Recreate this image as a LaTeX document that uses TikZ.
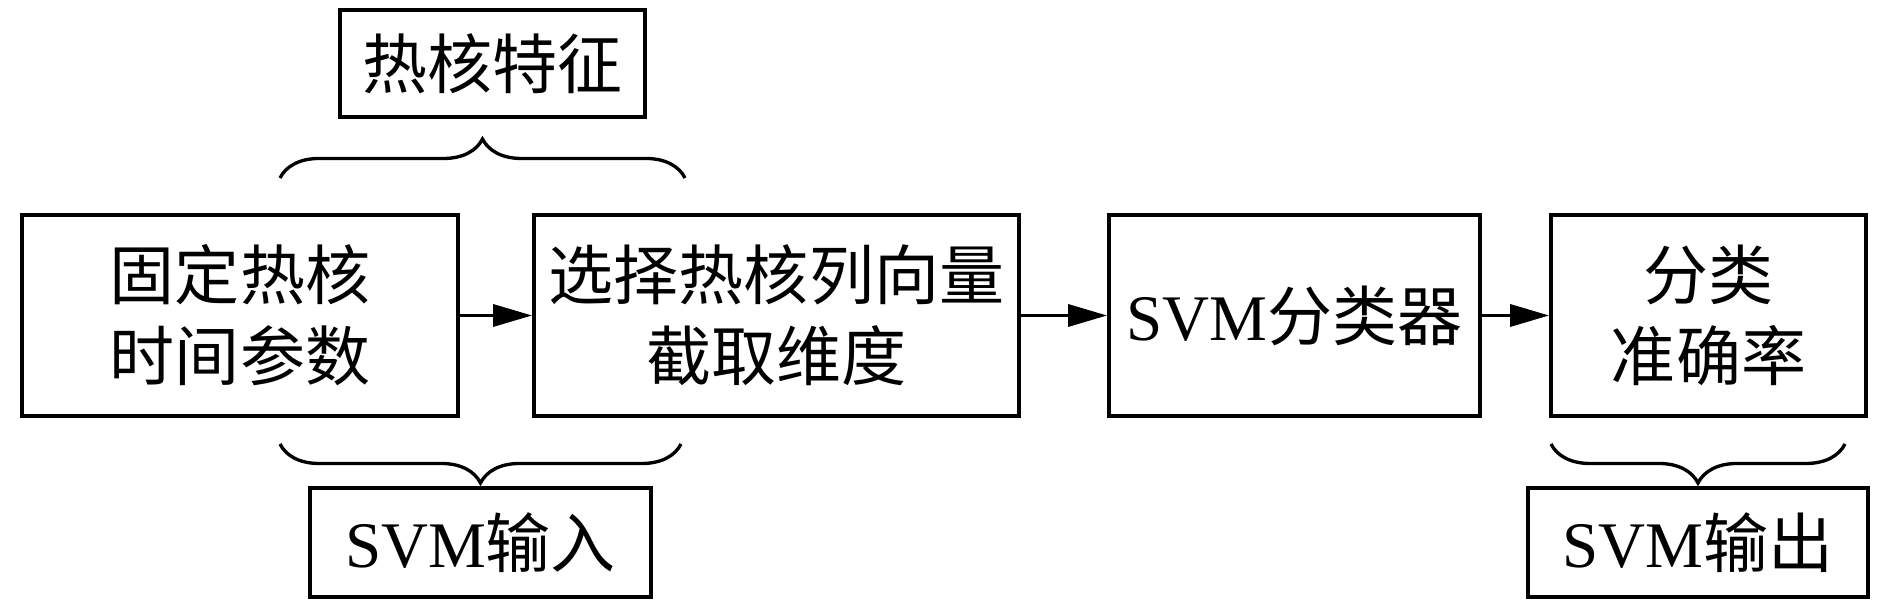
\documentclass[tikz,border=0pt]{standalone}
\usepackage{fontspec}
\setmainfont{Liberation Serif}
\newfontfamily\cjk{Noto Sans CJK SC}
\usetikzlibrary{arrows.meta,decorations.pathreplacing}
\tikzset{
  blk/.style={draw, line width=2.2pt, align=center, inner sep=0pt,
    font=\fontsize{37}{46}\selectfont},
  arr/.style={-{Triangle[length=0.78cm,width=0.44cm]}, line width=2pt},
  brc/.style={decorate, decoration={brace, amplitude=0.78cm}, line width=1.9pt},
}

\begin{document}
\begin{tikzpicture}
  \useasboundingbox (0,0) rectangle (37.8,12.28);
  % Ablauf
  \node[blk, minimum width=8.72cm, minimum height=4.02cm] (fix) at (4.8,5.97) {\cjk 固定热核\\\cjk 时间参数};
  \node[blk, minimum width=9.7cm, minimum height=4.02cm] (sel) at (15.53,5.97) {\cjk 选择热核列向量\\\cjk 截取维度};
  \node[blk, minimum width=7.42cm, minimum height=4.02cm] (svm) at (25.89,5.97) {SVM{\cjk 分类器}};
  \node[blk, minimum width=6.3cm, minimum height=4.02cm] (acc) at (34.17,5.97) {\cjk 分类\\\cjk 准确率};
  \draw[arr] (fix) -- (sel);
  \draw[arr] (sel) -- (svm);
  \draw[arr] (svm) -- (acc);
  % Klammern
  \node[blk, minimum width=6.1cm, minimum height=2.14cm] (feat) at (9.85,11.01) {\cjk 热核特征};
  \node[blk, minimum width=6.82cm, minimum height=2.18cm] (in) at (9.61,1.43) {SVM{\cjk 输入}};
  \node[blk, minimum width=6.8cm, minimum height=2.18cm] (out) at (33.96,1.43) {SVM{\cjk 输出}};
  \coordinate (ta) at (5.6,8.72);
  \coordinate (tb) at (13.7,8.72);
  \coordinate (ia) at (5.6,3.4);
  \coordinate (ib) at (13.62,3.4);
  \coordinate (oa) at (31.02,3.4);
  \coordinate (ob) at (36.9,3.4);
  \draw[brc] (ta) -- (tb);
  \draw[brc] (ib) -- (ia);
  \draw[brc] (ob) -- (oa);
\end{tikzpicture}
\end{document}
